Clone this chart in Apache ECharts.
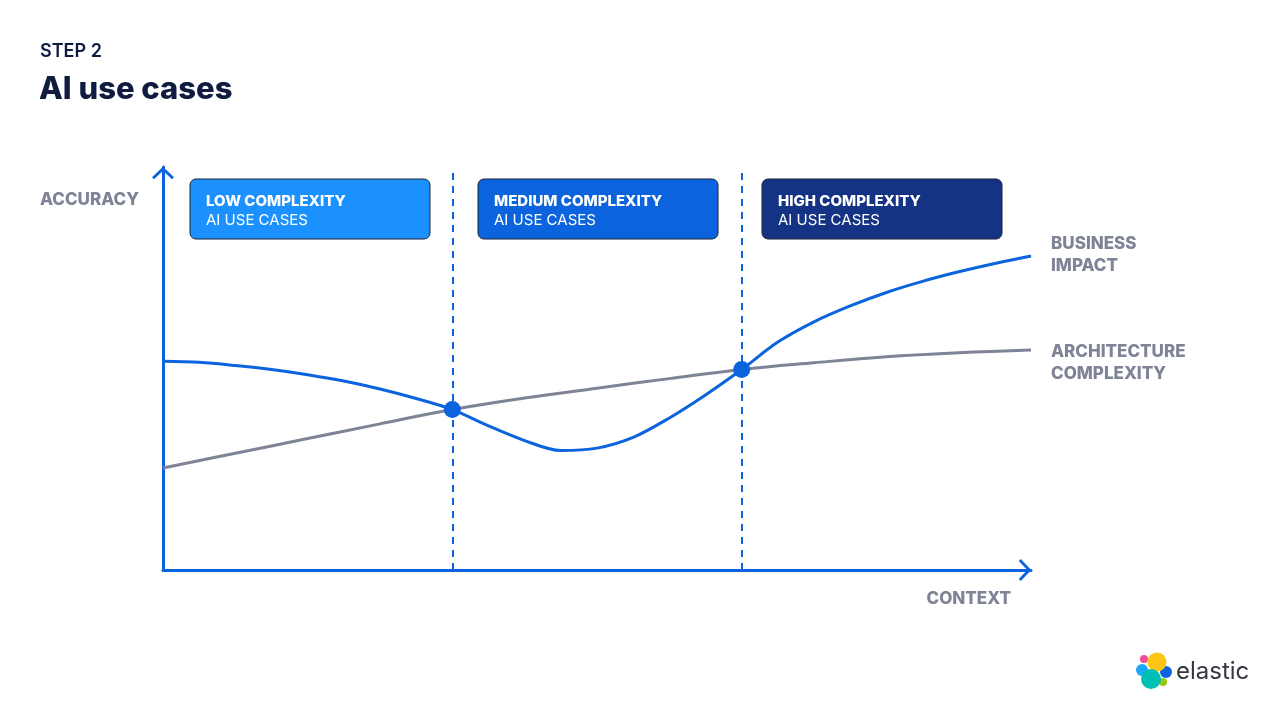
<!DOCTYPE html>
<html>
<head>
<meta charset="utf-8">
<title>AI use cases</title>
<script src="https://cdn.jsdelivr.net/npm/echarts@6/dist/echarts.min.js"></script>
<style>
  html, body { margin: 0; padding: 0; background: #fff; }
  #chart { width: 1280px; height: 720px; }
</style>
</head>
<body>
<div id="chart"></div>
<script>
// context (x) positions where the business curve was read
const businessX = [0, 0.125, 0.25, 0.375, 0.5, 0.625, 0.75, 0.875, 1, 1.125, 1.25, 1.375, 1.5,
  1.625, 1.75, 1.875, 2, 2.125, 2.25, 2.375, 2.5, 2.625, 2.75, 2.875, 3];
const businessImpact = [52.6, 52.3, 51.5, 50.5, 49.2, 47.6, 45.6, 43.2, 40.4, 36.3, 32.6, 30.1, 30.7,
  33.4, 38.3, 44.1, 50.5, 57.4, 62.5, 66.5, 69.9, 72.7, 75.1, 77.2, 79.1];

const architectureX = [0, 0.25, 0.5, 0.75, 1, 1.25, 1.5, 1.75, 2, 2.25, 2.5, 2.75, 3];
const architectureComplexity = [25.7, 29.4, 33.1, 36.8, 40.4, 43.3, 45.8, 48.2, 50.5, 52.2, 53.7, 54.7, 55.4];

// where the curves cross (also the phase boundaries)
const crossX = [1, 2];
const crossY = [40.4, 50.5];

const phases = ["LOW COMPLEXITY", "MEDIUM COMPLEXITY", "HIGH COMPLEXITY"];
const phaseSub = "AI USE CASES";
const phaseColors = ["#1B91FF", "#0B64DD", "#153385"];

const BLUE = "#0B64DD";
const GREY = "#7E8396";
const NAVY = "#101C3F";
const FONT = "Inter, 'Noto Sans', sans-serif";

const chevron = "path://M0,10.5 L11,0 L22,10.5 L20,12.5 L11,4 L2,12.5 Z";

const chart = echarts.init(document.getElementById("chart"), null, { renderer: "canvas" });

const phaseBoxes = [];
const boxLeft = [190, 478, 762];
phases.forEach((name, i) => {
  phaseBoxes.push({
    type: "rect",
    shape: { x: boxLeft[i], y: 179, width: 240, height: 60, r: 6 },
    style: { fill: phaseColors[i], stroke: "#1a2236", lineWidth: 1 },
  });
  phaseBoxes.push({
    type: "text",
    x: boxLeft[i] + 16, y: 201,
    style: { text: name, fill: "#fff", font: "800 15px " + FONT, textVerticalAlign: "middle" },
  });
  phaseBoxes.push({
    type: "text",
    x: boxLeft[i] + 16, y: 220,
    style: { text: phaseSub, fill: "#fff", font: "15px " + FONT, textVerticalAlign: "middle" },
  });
});

const label = (text, x, y, align) => ({
  type: "text", x, y,
  style: { text, fill: GREY, font: "800 17px " + FONT, textAlign: align || "left", textVerticalAlign: "middle" },
});

const logo = [
  { type: "circle", shape: { cx: 1144, cy: 659, r: 4 }, style: { fill: "#F04E98" } },
  { type: "circle", shape: { cx: 1142, cy: 670, r: 6 }, style: { fill: "#1BA9F5" } },
  { type: "circle", shape: { cx: 1166, cy: 672, r: 6 }, style: { fill: "#0B64DD" } },
  { type: "circle", shape: { cx: 1163, cy: 682, r: 4 }, style: { fill: "#93C90E" } },
  { type: "circle", shape: { cx: 1157, cy: 662, r: 9.5 }, style: { fill: "#FEC514" } },
  { type: "circle", shape: { cx: 1151, cy: 679, r: 10 }, style: { fill: "#00BFB3" } },
  { type: "text", x: 1176, y: 672, style: { text: "elastic", fill: "#343741", font: "24px " + FONT, textVerticalAlign: "middle" } },
];

chart.setOption({
  backgroundColor: "#fff",
  animation: false,
  grid: { left: 163, top: 167, width: 868, height: 403 },
  xAxis: {
    type: "value", min: 0, max: 3,
    axisLine: { show: true, symbol: ["none", chevron], symbolSize: [22, 12.5], symbolOffset: [0, -6],
      lineStyle: { color: BLUE, width: 3 } },
    axisTick: { show: false }, axisLabel: { show: false }, splitLine: { show: false },
  },
  yAxis: {
    type: "value", min: 0, max: 101.5,
    axisLine: { show: true, symbol: ["none", chevron], symbolSize: [22, 12.5], symbolOffset: [0, -6],
      lineStyle: { color: BLUE, width: 3 } },
    axisTick: { show: false }, axisLabel: { show: false }, splitLine: { show: false },
  },
  series: [
    {
      name: "Architecture complexity",
      type: "line",
      smooth: 0.4,
      showSymbol: false,
      data: architectureX.map((x, i) => [x, architectureComplexity[i]]),
      lineStyle: { color: GREY, width: 3 },
      z: 2,
    },
    {
      name: "Business impact",
      type: "line",
      smooth: 0.33,
      showSymbol: false,
      data: businessX.map((x, i) => [x, businessImpact[i]]),
      lineStyle: { color: BLUE, width: 3 },
      z: 3,
      markLine: {
        silent: true,
        symbol: ["none", "none"],
        label: { show: false },
        lineStyle: { color: BLUE, width: 2, type: [7, 6] },
        data: crossX.map((x) => [{ coord: [x, 0] }, { coord: [x, 100] }]),
      },
    },
    {
      name: "Crossings",
      type: "scatter",
      symbolSize: 17,
      itemStyle: { color: BLUE, opacity: 1 },
      data: crossX.map((x, i) => [x, crossY[i]]),
      z: 5,
    },
  ],
  graphic: [
    { type: "text", x: 40, y: 52, style: { text: "STEP 2", fill: NAVY, font: "600 18px " + FONT, textVerticalAlign: "middle" } },
    { type: "text", x: 39, y: 90, style: { text: "AI use cases", fill: NAVY, font: "800 31px " + FONT, textVerticalAlign: "middle" } },
    label("ACCURACY", 40, 200),
    label("CONTEXT", 1011, 599, "right"),
    label("BUSINESS", 1051, 244),
    label("IMPACT", 1051, 266),
    label("ARCHITECTURE", 1051, 352),
    label("COMPLEXITY", 1051, 374),
    ...phaseBoxes,
    ...logo,
  ],
});
</script>
</body>
</html>
